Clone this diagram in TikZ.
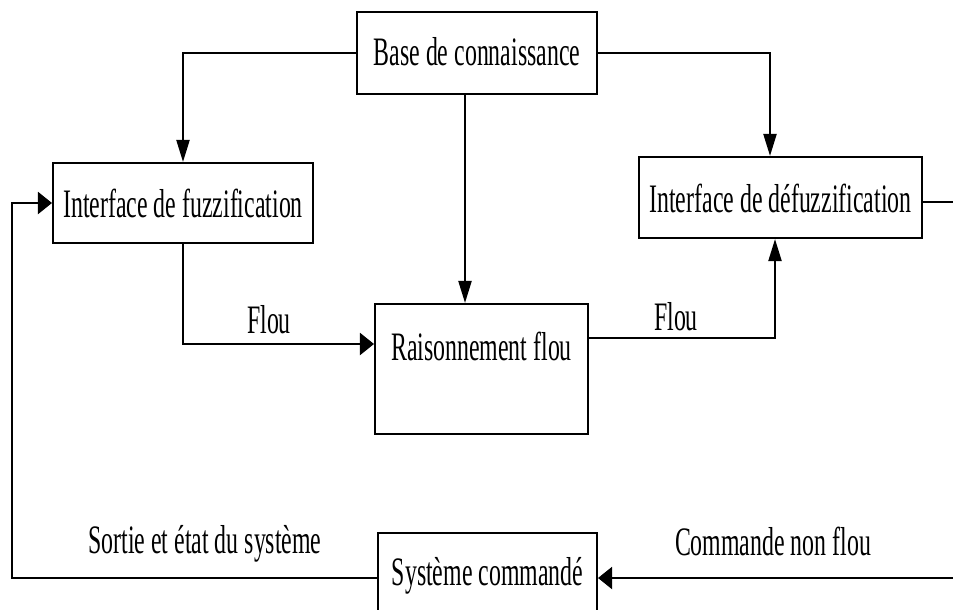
\documentclass[tikz,border=0pt]{standalone}
\usepackage{fontspec}
\setmainfont{Liberation Serif}[FakeStretch=0.59]
\usetikzlibrary{arrows.meta}

\tikzset{
  bloc/.style={draw, line width=1.2pt, inner sep=0pt, anchor=base, font=\fontsize{23}{27}\selectfont},
  etiq/.style={inner sep=0pt, anchor=base, font=\fontsize{23}{27}\selectfont},
  hfleche/.style={-{Triangle[length=0.28cm,width=0.44cm]}},
  vfleche/.style={-{Triangle[length=0.44cm,width=0.26cm]}},
}

\begin{document}
\begin{tikzpicture}[x=0.02cm, y=-0.02cm, line width=1.2pt]
    \useasboundingbox (0,0) rectangle (953,609);
    \coordinate (gauche) at (12,0);
    \coordinate (bord) at (953,0);

    % les blocs
    \node[bloc, minimum width=4.8cm, text height=1.06cm, text depth=0.58cm] (base) at (477,65) {Base de connaissance};
    \node[bloc, minimum width=5.2cm, text height=1.08cm, text depth=0.52cm] (fuzz) at (183,217) {Interface de fuzzification};
    \node[bloc, minimum width=5.66cm, text height=1.1cm, text depth=0.52cm] (defuzz) at (780.5,212) {Interface de défuzzification};
    \node[bloc, minimum width=4.26cm, text height=1.12cm, text depth=1.48cm] (raison) at (481.5,360) {Raisonnement flou};
    \node[bloc, minimum width=4.38cm, text height=1.04cm, text depth=1.2cm] (sys) at (487.5,585) {Système commandé};

    % liaisons
    \draw[vfleche] (base.west) -| (fuzz.north);
    \draw[vfleche] (base.east) -| ([xshift=-0.21cm]defuzz.north);
    \draw[vfleche] ([xshift=-0.24cm]base.south) -- ([xshift=-0.24cm]base.south |- raison.north);
    \draw[hfleche] (fuzz.south) |- ([yshift=0.5cm]raison.west);
    \draw[vfleche] ([yshift=0.62cm]raison.east) -| ([xshift=-0.11cm]defuzz.south);
    \coordinate (dsort) at ([yshift=-0.09cm]defuzz.east);
    \draw (dsort) -- (dsort -| bord);
    \coordinate (sentree) at ([yshift=0.22cm]sys.east);
    \draw[hfleche] (sentree -| bord) -- (sentree);
    \draw[hfleche] ([yshift=0.22cm]sys.west) -| (gauche |- fuzz.west) -- (fuzz.west);

    % etiquettes
    \node[etiq] (flou1) at (269,333) {Flou};
    \node[etiq] (flou2) at (676,330) {Flou};
    \node[etiq] (sortie) at (205,553) {Sortie et état du système};
    \node[etiq] (cmd) at (773,555) {Commande non flou};
\end{tikzpicture}
\end{document}
